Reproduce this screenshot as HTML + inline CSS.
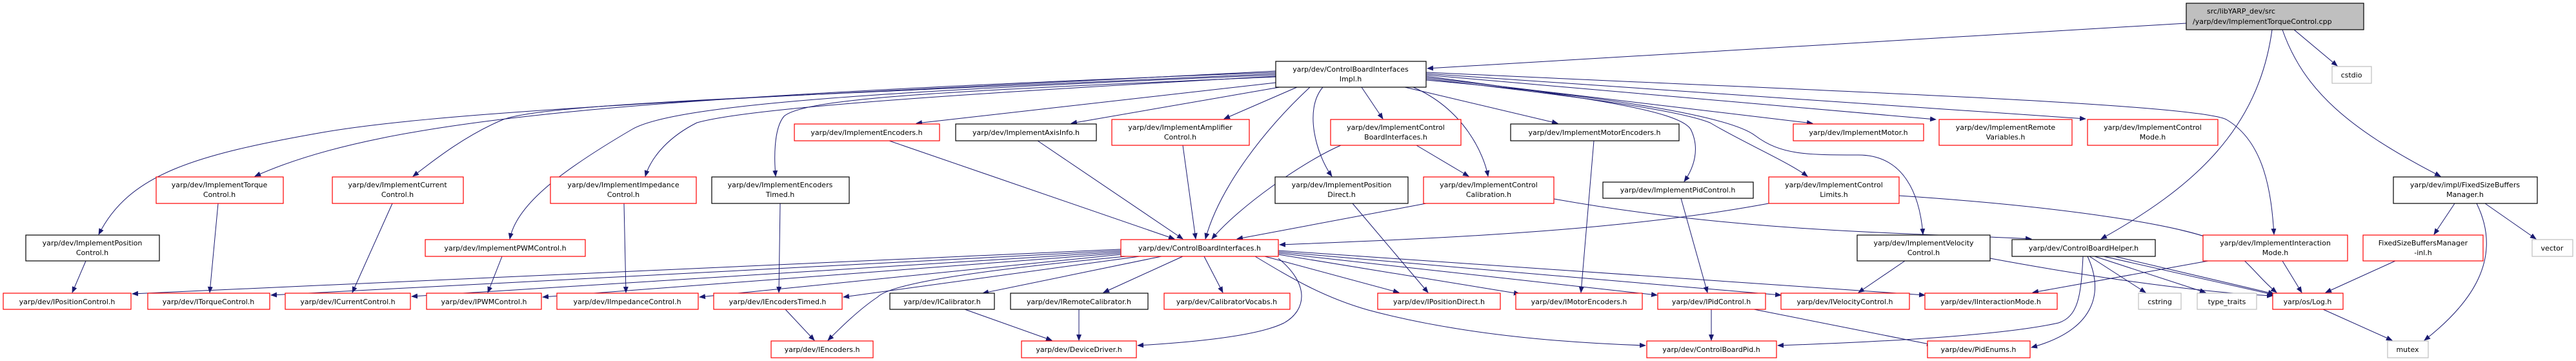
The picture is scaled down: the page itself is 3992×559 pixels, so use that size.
<!DOCTYPE html>
<html><head><meta charset="utf-8"><style>
html,body{margin:0;padding:0;background:#fff;}
svg{display:block;}
text{font-family:"DejaVu Sans","Liberation Sans",sans-serif;font-size:11px;fill:#000;text-anchor:middle;}
.r{fill:#fff;stroke:#ff0000;stroke-width:1.2;}
.b{fill:#fff;stroke:#000;stroke-width:1.2;}
.g{fill:#fff;stroke:#bfbfbf;stroke-width:1.2;}
.e{fill:none;stroke:#191970;stroke-width:1;marker-end:url(#a);}
</style></head><body>
<svg width="3992" height="559" viewBox="0 0 3992 559" xmlns="http://www.w3.org/2000/svg">
<defs><marker id="a" markerWidth="10" markerHeight="8" refX="9" refY="4" orient="auto" markerUnits="userSpaceOnUse"><path d="M0,0 L10,4 L0,8 z" fill="#191970"/></marker></defs>

<!-- edges -->
<g>
<path class="e" d="M3388,36 L2212,106"/>
<path class="e" d="M3555,46 L3622,102"/>
<path class="e" d="M3537,46 C3570,140 3640,200 3782,273"/>
<path class="e" d="M3521,46 C3500,200 3400,290 3256,370"/>

<path class="e" d="M1977,110 C1200,150 700,170 500,205 C300,240 200,270 153,363"/>
<path class="e" d="M1977,112 C1000,150 600,180 395,273"/>
<path class="e" d="M1977,114 C1200,150 850,160 780,185 C720,210 670,250 640,273"/>
<path class="e" d="M1977,116 C1400,140 1050,160 980,200 C860,270 800,320 790,370"/>
<path class="e" d="M1977,118 C1400,150 1150,170 1080,190 C1040,210 1010,240 1000,273"/>
<path class="e" d="M1977,119 C1500,140 1250,150 1215,180 C1198,200 1200,250 1202,273"/>
<path class="e" d="M1977,128 L1420,191"/>
<path class="e" d="M1983,135 L1660,191"/>
<path class="e" d="M2010,135 L1897,184"/>
<path class="e" d="M2030,135 C1960,200 1890,290 1868,370"/>
<path class="e" d="M2050,135 C2020,170 2040,240 2064,273"/>
<path class="e" d="M2110,135 L2143,184"/>
<path class="e" d="M2190,135 C2270,170 2300,240 2306,273"/>
<path class="e" d="M2177,135 L2414,191"/>
<path class="e" d="M2210,118 C2450,150 2600,170 2620,200 C2635,230 2625,260 2610,281"/>
<path class="e" d="M2210,120 L2809,191"/>
<path class="e" d="M2210,122 C2450,150 2600,170 2650,190 C2700,220 2770,250 2801,273"/>
<path class="e" d="M2210,116 L3000,185"/>
<path class="e" d="M2210,114 L3232,184"/>
<path class="e" d="M2210,124 C2500,150 2680,180 2720,210 C2760,240 2800,240 2880,240 C2950,240 2975,300 2980,363"/>
<path class="e" d="M2210,112 C2800,140 3400,160 3450,185 C3510,220 3520,300 3524,363"/>

<path class="e" d="M133,404 L112,453"/>
<path class="e" d="M338,315 L325,453"/>
<path class="e" d="M608,315 L546,453"/>
<path class="e" d="M778,397 L756,453"/>
<path class="e" d="M967,315 L970,453"/>
<path class="e" d="M1209,315 L1207,453"/>
<path class="e" d="M1378,218 L1820,370"/>
<path class="e" d="M1608,218 L1833,370"/>
<path class="e" d="M1833,225 L1853,370"/>
<path class="e" d="M2096,315 L2213,453"/>
<path class="e" d="M2078,225 C2020,250 1920,320 1878,370"/>
<path class="e" d="M2195,225 L2276,273"/>
<path class="e" d="M2210,315 L1917,370"/>
<path class="e" d="M2408,308 C2700,360 2950,360 3148,370"/>
<path class="e" d="M2470,218 L2450,453"/>
<path class="e" d="M2605,307 L2646,453"/>
<path class="e" d="M2741,315 C2500,360 2200,370 1983,379"/>
<path class="e" d="M2943,303 C3200,320 3400,350 3450,380 C3490,410 3500,430 3528,453"/>
<path class="e" d="M2952,404 L2880,453"/>
<path class="e" d="M3084,400 C3300,440 3450,455 3522,458"/>
<path class="e" d="M3422,404 L3150,453"/>
<path class="e" d="M3537,404 L3567,453"/>
<path class="e" d="M3804,315 L3772,363"/>
<path class="e" d="M3851,315 L3930,370"/>
<path class="e" d="M3838,315 C3880,400 3830,470 3757,527"/>
<path class="e" d="M3712,404 L3604,453"/>
<path class="e" d="M3600,479 L3707,527"/>
<path class="e" d="M3238,397 L3325,453"/>
<path class="e" d="M3246,397 L3418,453"/>
<path class="e" d="M3260,397 L3526,457"/>
<path class="e" d="M3277,397 L3524,455"/>
<path class="e" d="M3228,397 C3225,460 3220,490 3190,500 C3100,520 2900,530 2755,535"/>
<path class="e" d="M3235,397 C3260,450 3250,510 3148,538"/>
<path class="e" d="M1217,479 L1262,527"/>
<path class="e" d="M1495,479 L1630,527"/>
<path class="e" d="M1672,479 L1672,527"/>
<path class="e" d="M2652,479 L2652,527"/>
<path class="e" d="M2718,479 L2995,534"/>

<path class="e" d="M1737,386 L205,455"/>
<path class="e" d="M1737,388 L420,457"/>
<path class="e" d="M1737,390 L638,459"/>
<path class="e" d="M1737,392 L841,460"/>
<path class="e" d="M1737,394 L1084,460"/>
<path class="e" d="M1766,397 L1307,460"/>
<path class="e" d="M1745,397 C1500,420 1380,440 1360,460 C1330,480 1300,510 1283,527"/>
<path class="e" d="M1800,397 L1523,454"/>
<path class="e" d="M1833,397 L1710,453"/>
<path class="e" d="M1866,397 L1895,453"/>
<path class="e" d="M1981,400 C2030,440 2025,480 1990,500 C1950,520 1850,530 1763,535"/>
<path class="e" d="M1960,397 L2168,453"/>
<path class="e" d="M1981,394 L2355,455"/>
<path class="e" d="M1981,392 L2568,457"/>
<path class="e" d="M1981,390 L2760,457"/>
<path class="e" d="M1981,388 L2983,457"/>
<path class="e" d="M1945,397 C2000,430 2050,460 2120,480 C2250,515 2400,530 2550,535"/>
</g>

<!-- nodes -->
<rect x="3388" y="5" width="275" height="41" fill="#bfbfbf" stroke="#000" stroke-width="1.2"/>
<text x="3420" y="21" style="text-anchor:start">src/libYARP_dev/src</text>
<text x="3398" y="37" style="text-anchor:start">/yarp/dev/ImplementTorqueControl.cpp</text>

<rect class="b" x="1977" y="95" width="233" height="40"/>
<text x="2093" y="111">yarp/dev/ControlBoardInterfaces</text><text x="2093" y="126">Impl.h</text>

<rect class="g" x="3614" y="103" width="61" height="26"/><text x="3644" y="120">cstdio</text>

<rect class="r" x="1231" y="192" width="225" height="26"/><text x="1343" y="209">yarp/dev/ImplementEncoders.h</text>
<rect class="b" x="1481" y="192" width="218" height="26"/><text x="1590" y="209">yarp/dev/ImplementAxisInfo.h</text>
<rect class="r" x="1723" y="185" width="213" height="40"/><text x="1829" y="201">yarp/dev/ImplementAmplifier</text><text x="1829" y="216">Control.h</text>
<rect class="r" x="2062" y="185" width="202" height="40"/><text x="2163" y="201">yarp/dev/ImplementControl</text><text x="2163" y="216">BoardInterfaces.h</text>
<rect class="b" x="2341" y="192" width="261" height="26"/><text x="2471" y="209">yarp/dev/ImplementMotorEncoders.h</text>
<rect class="r" x="2779" y="192" width="202" height="26"/><text x="2880" y="209">yarp/dev/ImplementMotor.h</text>
<rect class="r" x="3005" y="185" width="206" height="40"/><text x="3108" y="201">yarp/dev/ImplementRemote</text><text x="3108" y="216">Variables.h</text>
<rect class="r" x="3235" y="185" width="202" height="40"/><text x="3336" y="201">yarp/dev/ImplementControl</text><text x="3336" y="216">Mode.h</text>

<rect class="r" x="242" y="274" width="197" height="41"/><text x="340" y="290">yarp/dev/ImplementTorque</text><text x="340" y="305">Control.h</text>
<rect class="r" x="515" y="274" width="203" height="41"/><text x="616" y="290">yarp/dev/ImplementCurrent</text><text x="616" y="305">Control.h</text>
<rect class="r" x="853" y="274" width="226" height="41"/><text x="966" y="290">yarp/dev/ImplementImpedance</text><text x="966" y="305">Control.h</text>
<rect class="b" x="1103" y="274" width="213" height="41"/><text x="1209" y="290">yarp/dev/ImplementEncoders</text><text x="1209" y="305">Timed.h</text>
<rect class="b" x="1976" y="274" width="206" height="41"/><text x="2079" y="290">yarp/dev/ImplementPosition</text><text x="2079" y="305">Direct.h</text>
<rect class="r" x="2206" y="274" width="202" height="41"/><text x="2307" y="290">yarp/dev/ImplementControl</text><text x="2307" y="305">Calibration.h</text>
<rect class="b" x="2484" y="282" width="233" height="25"/><text x="2600" y="298">yarp/dev/ImplementPidControl.h</text>
<rect class="r" x="2741" y="274" width="202" height="41"/><text x="2842" y="290">yarp/dev/ImplementControl</text><text x="2842" y="305">Limits.h</text>
<rect class="b" x="3709" y="274" width="223" height="41"/><text x="3820" y="290">yarp/dev/impl/FixedSizeBuffers</text><text x="3820" y="305">Manager.h</text>

<rect class="b" x="40" y="364" width="207" height="40"/><text x="143" y="380">yarp/dev/ImplementPosition</text><text x="143" y="395">Control.h</text>
<rect class="r" x="659" y="371" width="248" height="26"/><text x="783" y="388">yarp/dev/ImplementPWMControl.h</text>
<rect class="r" x="1737" y="371" width="244" height="26"/><text x="1859" y="388">yarp/dev/ControlBoardInterfaces.h</text>
<rect class="b" x="2878" y="364" width="206" height="40"/><text x="2981" y="380">yarp/dev/ImplementVelocity</text><text x="2981" y="395">Control.h</text>
<rect class="b" x="3118" y="371" width="222" height="26"/><text x="3229" y="388">yarp/dev/ControlBoardHelper.h</text>
<rect class="r" x="3414" y="364" width="224" height="40"/><text x="3526" y="380">yarp/dev/ImplementInteraction</text><text x="3526" y="395">Mode.h</text>
<rect class="r" x="3662" y="364" width="186" height="40"/><text x="3755" y="380">FixedSizeBuffersManager</text><text x="3755" y="395">-inl.h</text>
<rect class="g" x="3924" y="371" width="63" height="26"/><text x="3955" y="388">vector</text>

<rect class="r" x="5" y="454" width="198" height="25"/><text x="104" y="471">yarp/dev/IPositionControl.h</text>
<rect class="r" x="229" y="454" width="189" height="25"/><text x="323" y="471">yarp/dev/ITorqueControl.h</text>
<rect class="r" x="442" y="454" width="194" height="25"/><text x="539" y="471">yarp/dev/ICurrentControl.h</text>
<rect class="r" x="661" y="454" width="178" height="25"/><text x="750" y="471">yarp/dev/IPWMControl.h</text>
<rect class="r" x="863" y="454" width="219" height="25"/><text x="972" y="471">yarp/dev/IImpedanceControl.h</text>
<rect class="r" x="1106" y="454" width="199" height="25"/><text x="1205" y="471">yarp/dev/IEncodersTimed.h</text>
<rect class="b" x="1379" y="454" width="162" height="25"/><text x="1460" y="471">yarp/dev/ICalibrator.h</text>
<rect class="b" x="1566" y="454" width="213" height="25"/><text x="1672" y="471">yarp/dev/IRemoteCalibrator.h</text>
<rect class="r" x="1804" y="454" width="195" height="25"/><text x="1901" y="471">yarp/dev/CalibratorVocabs.h</text>
<rect class="r" x="2135" y="454" width="190" height="25"/><text x="2230" y="471">yarp/dev/IPositionDirect.h</text>
<rect class="r" x="2349" y="454" width="196" height="25"/><text x="2447" y="471">yarp/dev/IMotorEncoders.h</text>
<rect class="r" x="2569" y="454" width="167" height="25"/><text x="2652" y="471">yarp/dev/IPidControl.h</text>
<rect class="r" x="2760" y="454" width="199" height="25"/><text x="2859" y="471">yarp/dev/IVelocityControl.h</text>
<rect class="r" x="2983" y="454" width="205" height="25"/><text x="3085" y="471">yarp/dev/IInteractionMode.h</text>
<rect class="g" x="3314" y="454" width="66" height="25"/><text x="3347" y="471">cstring</text>
<rect class="g" x="3405" y="454" width="92" height="25"/><text x="3451" y="471">type_traits</text>
<rect class="r" x="3522" y="454" width="109" height="25"/><text x="3576" y="471">yarp/os/Log.h</text>

<rect class="r" x="1195" y="528" width="158" height="26"/><text x="1274" y="545">yarp/dev/IEncoders.h</text>
<rect class="r" x="1583" y="528" width="178" height="26"/><text x="1672" y="545">yarp/dev/DeviceDriver.h</text>
<rect class="r" x="2552" y="528" width="201" height="26"/><text x="2652" y="545">yarp/dev/ControlBoardPid.h</text>
<rect class="r" x="2987" y="528" width="159" height="26"/><text x="3066" y="545">yarp/dev/PidEnums.h</text>
<rect class="g" x="3700" y="528" width="63" height="26"/><text x="3731" y="545">mutex</text>
</svg>
</body></html>
